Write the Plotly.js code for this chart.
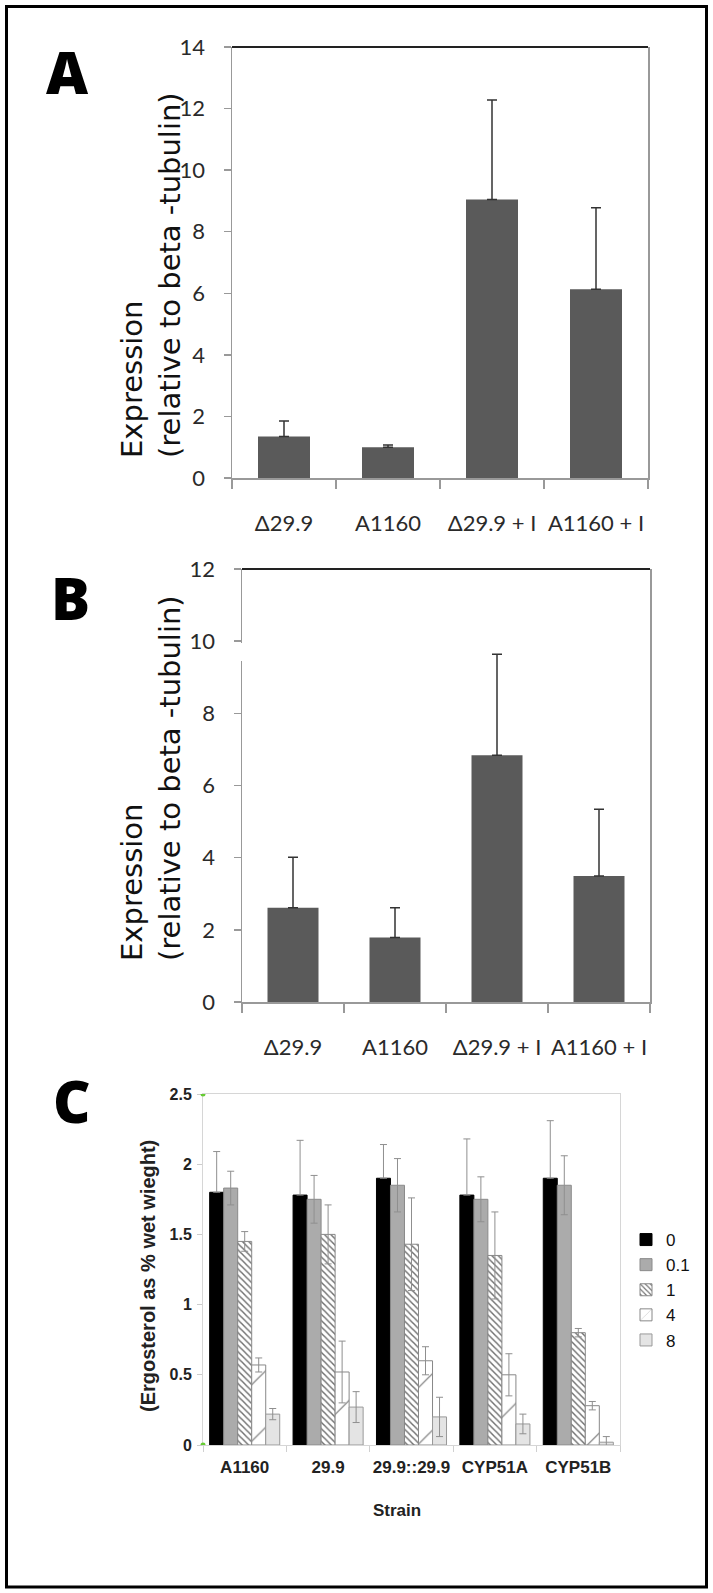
<!DOCTYPE html>
<html><head><meta charset="utf-8">
<script src="https://cdn.plot.ly/plotly-3.0.1.min.js"></script>
<style>html,body{margin:0;padding:0;background:#fff}#chart{width:713px;height:1593px}</style>
</head><body><div id="chart"></div>
<script>
// ---- Panel A / B data ----
const strainsAB = ['Δ29.9', 'A1160', 'Δ29.9 + I', 'A1160 + I'];
const exprA = [1.35, 1.0, 9.05, 6.13];
const errA  = [0.50, 0.07, 3.23, 2.65];
const exprB = [2.61, 1.79, 6.84, 3.49];
const errB  = [1.40, 0.82, 2.80, 1.85];
const yTicksA = [0, 2, 4, 6, 8, 10, 12, 14];
const yTicksB = [0, 2, 4, 6, 8, 10, 12];

// ---- Panel C data ----
const strainsC = ['A1160', '29.9', '29.9::29.9', 'CYP51A', 'CYP51B'];
const concLabels = ['0', '0.1', '1', '4', '8'];
const erg0    = [1.80, 1.78, 1.90, 1.78, 1.90];
const erg0Err = [0.29, 0.39, 0.24, 0.40, 0.41];
const erg01    = [1.83, 1.75, 1.85, 1.75, 1.85];
const erg01Err = [0.12, 0.17, 0.19, 0.16, 0.21];
const erg1    = [1.45, 1.50, 1.43, 1.35, 0.80];
const erg1Err = [0.07, 0.21, 0.33, 0.31, 0.03];
const erg4    = [0.57, 0.52, 0.60, 0.50, 0.28];
const erg4Err = [0.05, 0.22, 0.10, 0.15, 0.03];
const erg8    = [0.22, 0.27, 0.20, 0.15, 0.02];
const erg8Err = [0.04, 0.11, 0.14, 0.07, 0.04];
const yTicksC = [0, 0.5, 1, 1.5, 2, 2.5];

const W = 713, H = 1593;
const px = v => v / W;
const py = v => (H - v) / H;

const zeros = a => a.map(() => 0);

function exprTrace(y, err, xa, ya) {
  return {
    type: 'bar', x: strainsAB, y: y, xaxis: xa, yaxis: ya, width: 0.5,
    marker: {color: '#5a5a5a', line: {width: 0}},
    error_y: {type: 'data', array: err, symmetric: false, arrayminus: zeros(err),
              color: '#333', thickness: 1.5, width: 5},
    showlegend: false, hoverinfo: 'skip'
  };
}

function ergTrace(name, y, err, marker, plusOnly) {
  const e = {type: 'data', array: err, color: '#8f8f8f', thickness: 1, width: 3.5};
  if (plusOnly) { e.symmetric = false; e.arrayminus = zeros(err); }
  return {type: 'bar', name: name, x: strainsC, y: y, xaxis: 'x3', yaxis: 'y3',
          marker: marker, error_y: e, hoverinfo: 'skip'};
}

const data = [
  exprTrace(exprA, errA, 'x', 'y'),
  exprTrace(exprB, errB, 'x2', 'y2'),
  ergTrace(concLabels[0], erg0, erg0Err, {color: '#000', line: {color: '#000', width: 1}}, true),
  ergTrace(concLabels[1], erg01, erg01Err, {color: '#ababab', line: {color: '#8a8a8a', width: 1}}),
  ergTrace(concLabels[2], erg1, erg1Err, {color: 'white',
      pattern: {shape: '\\', fgcolor: '#6e6e6e', bgcolor: 'white', size: 4.5, solidity: 0.32},
      line: {color: '#888', width: 1}}),
  ergTrace(concLabels[3], erg4, erg4Err, {color: 'white',
      pattern: {shape: '/', fgcolor: '#777', bgcolor: 'white', size: 40, solidity: 0.03},
      line: {color: '#888', width: 1}}),
  ergTrace(concLabels[4], erg8, erg8Err, {color: '#e4e4e4', line: {color: '#999', width: 1}})
];

const tickFontAB = {family: 'Lato, "Open Sans", sans-serif', size: 22, color: '#2a2a2a'};
function xAB(domain, anchor) {
  return {domain: domain, anchor: anchor, type: 'category', showline: true, linecolor: '#999',
          linewidth: 1.5, ticks: 'outside', tickson: 'boundaries', ticklen: 9, tickcolor: '#999',
          tickwidth: 1.5, tickfont: tickFontAB, tickangle: 0, ticklabelstandoff: 25, showgrid: false,
          zeroline: false, fixedrange: true};
}
function yAB(domain, anchor, range, vals) {
  return {domain: domain, anchor: anchor, range: range, tickvals: vals, showline: true,
          linecolor: '#999', linewidth: 1.5, mirror: true, ticks: 'outside', ticklen: 7,
          tickcolor: '#999', tickwidth: 1.5, tickfont: tickFontAB, ticklabelstandoff: 14,
          showgrid: false, zeroline: false, fixedrange: true};
}

const titleFont = {family: '"DejaVu Sans", Verdana, sans-serif', size: 29, color: '#111'};
const letterFont = {family: '"Open Sans", "DejaVu Sans", sans-serif', size: 58, color: '#000', weight: 800};
const boldArial = (s) => ({family: '"Liberation Sans", Arial, sans-serif', size: s, color: '#222', weight: 'bold'});

const layout = {
  width: W, height: H, margin: {l: 0, r: 0, t: 0, b: 0},
  paper_bgcolor: '#fff', plot_bgcolor: '#fff',
  barmode: 'group', bargap: 0.16, bargroupgap: 0,
  xaxis: xAB([px(232), px(648)], 'y'),
  yaxis: yAB([py(478), py(47)], 'x', [0, 14], yTicksA),
  xaxis2: xAB([px(242), px(650)], 'y2'),
  yaxis2: yAB([py(1002), py(569)], 'x2', [0, 12], yTicksB),
  xaxis3: {domain: [px(203), px(620)], anchor: 'y3', type: 'category', showline: true,
           linecolor: '#d6d6d6', linewidth: 1, mirror: true, ticks: 'outside',
           tickson: 'boundaries', ticklen: 6, tickcolor: '#d0d0d0', tickfont: boldArial(17),
           tickangle: 0, ticklabelstandoff: 7, showgrid: false, zeroline: false, fixedrange: true},
  yaxis3: {domain: [py(1445), py(1094)], anchor: 'x3', range: [0, 2.5], tickvals: yTicksC,
           showline: true, linecolor: '#d6d6d6', linewidth: 1, mirror: true, ticks: 'outside',
           ticklen: 5, tickcolor: '#cccccc', tickfont: boldArial(16), ticklabelstandoff: 2,
           showgrid: false, zeroline: false, fixedrange: true},
  showlegend: true,
  legend: {x: px(626), xanchor: 'left', y: py(1290), yanchor: 'middle', bgcolor: 'rgba(0,0,0,0)',
           font: {family: '"Liberation Sans", Arial, sans-serif', size: 17, color: '#111'},
           traceorder: 'normal', itemwidth: 30, tracegroupgap: 0},
  annotations: [
    {text: 'A', xref: 'paper', yref: 'paper', x: px(67), y: py(71), xanchor: 'center', yanchor: 'middle', showarrow: false, font: letterFont},
    {text: 'B', xref: 'paper', yref: 'paper', x: px(70), y: py(597), xanchor: 'center', yanchor: 'middle', showarrow: false, font: letterFont},
    {text: 'C', xref: 'paper', yref: 'paper', x: px(72), y: py(1100), xanchor: 'center', yanchor: 'middle', showarrow: false, font: letterFont},
    {text: 'Expression<br>(relative to beta -tubulin)', xref: 'paper', yref: 'paper', x: px(151), y: py(275),
     xanchor: 'center', yanchor: 'middle', textangle: -90, align: 'left', showarrow: false, font: titleFont},
    {text: 'Expression<br>(relative to beta -tubulin)', xref: 'paper', yref: 'paper', x: px(151), y: py(778),
     xanchor: 'center', yanchor: 'middle', textangle: -90, align: 'left', showarrow: false, font: titleFont},
    {text: '(Ergosterol as % wet wieght)', xref: 'paper', yref: 'paper', x: px(148), y: py(1276),
     xanchor: 'center', yanchor: 'middle', textangle: -90, showarrow: false, font: boldArial(20)},
    {text: 'Strain', xref: 'paper', yref: 'paper', x: px(397), y: py(1510),
     xanchor: 'center', yanchor: 'middle', showarrow: false, font: boldArial(17)}
  ],
  shapes: [
    {type: 'rect', xref: 'paper', yref: 'paper', x0: px(6.5), x1: px(706.5), y0: py(1587), y1: py(6.5),
     line: {color: '#000', width: 3}, fillcolor: 'rgba(0,0,0,0)'},
    {type: 'line', xref: 'x domain', yref: 'y domain', x0: 0, x1: 1, y0: 1, y1: 1, line: {color: '#222', width: 2}},
    {type: 'line', xref: 'x2 domain', yref: 'y2 domain', x0: 0, x1: 1, y0: 1, y1: 1, line: {color: '#222', width: 2}},
    {type: 'line', xref: 'x2 domain', yref: 'y2', x0: 0, x1: 0, y0: 9.45, y1: 9.95, line: {color: '#fff', width: 4}},
    {type: 'circle', xref: 'x3 domain', yref: 'y3', xsizemode: 'pixel', ysizemode: 'pixel', xanchor: 0, yanchor: 2.5,
     x0: -2.5, x1: 2.5, y0: -2.5, y1: 2.5, fillcolor: '#66cc33', line: {width: 0}},
    {type: 'circle', xref: 'x3 domain', yref: 'y3', xsizemode: 'pixel', ysizemode: 'pixel', xanchor: 0, yanchor: 0,
     x0: -2.5, x1: 2.5, y0: -2.5, y1: 2.5, fillcolor: '#66cc33', line: {width: 0}}
  ]
};

Plotly.newPlot('chart', data, layout, {staticPlot: true, displayModeBar: false});
</script>
</body></html>
